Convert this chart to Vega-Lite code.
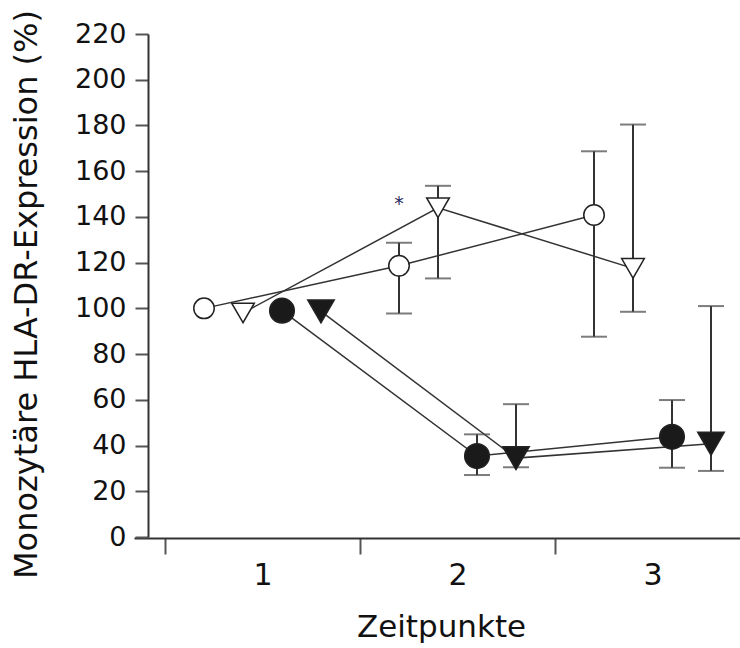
{
  "$schema": "https://vega.github.io/schema/vega-lite/v6.json",
  "autosize": {"type": "none"},
  "width": 606,
  "height": 503,
  "padding": {"left": 134, "top": 34, "right": 0, "bottom": 111},
  "background": "white",
  "config": {"view": {"stroke": null}, "font": "DejaVu Sans"},
  "data": {"values": [
    {"t": "1", "s": "A", "v": 100},
    {"t": "2", "s": "A", "v": 118.6, "lo": 97.8, "hi": 128.7},
    {"t": "3", "s": "A", "v": 140.8, "lo": 87.6, "hi": 168.7},
    {"t": "1", "s": "B", "v": 98},
    {"t": "2", "s": "B", "v": 144, "lo": 113.1, "hi": 153.6},
    {"t": "3", "s": "B", "v": 117.5, "lo": 98.5, "hi": 180.4},
    {"t": "1", "s": "C", "v": 99},
    {"t": "2", "s": "C", "v": 35.4, "lo": 27.1, "hi": 44.9},
    {"t": "3", "s": "C", "v": 43.8, "lo": 30.3, "hi": 59.9},
    {"t": "1", "s": "D", "v": 98.7},
    {"t": "2", "s": "D", "v": 34.5, "lo": 30.5, "hi": 58.1},
    {"t": "3", "s": "D", "v": 40.8, "lo": 28.9, "hi": 101}
  ]},
  "encoding": {
    "x": {
      "field": "t", "type": "nominal", "title": "Zeitpunkte",
      "scale": {"range": [0, 647], "paddingInner": 0, "paddingOuter": 0.159, "align": 0.5},
      "axis": {
        "labelAngle": 0, "offset": 1, "tickBand": "extent", "tickSize": 16,
        "domainColor": "#333", "domainWidth": 2, "tickColor": "#555", "tickWidth": 2,
        "labelFontSize": 30, "labelColor": "#111", "labelPadding": 6,
        "titleFontSize": 31, "titleFontWeight": "normal", "titleColor": "#111", "titlePadding": 22, "titleX": 307
      }
    },
    "xOffset": {"field": "s", "type": "nominal", "scale": {"domain": ["A", "B", "C", "D"], "paddingInner": 0, "paddingOuter": 0.5}}
  },
  "layer": [
    {
      "mark": {"type": "line", "stroke": "#333", "strokeWidth": 1.5},
      "encoding": {
        "y": {"field": "v", "type": "quantitative", "title": "Monozytäre HLA-DR-Expression (%)",
          "scale": {"domain": [0, 220], "nice": false},
          "axis": {
            "values": [0, 20, 40, 60, 80, 100, 120, 140, 160, 180, 200, 220],
            "offset": -14, "tickSize": 13, "grid": false,
            "domainColor": "#333", "domainWidth": 2, "tickColor": "#555", "tickWidth": 2,
            "labelFontSize": 27, "labelColor": "#111", "labelPadding": 9,
            "titleFontSize": 32, "titleFontWeight": "normal", "titleColor": "#111", "titlePadding": 31, "titleY": 260
          }
        },
        "detail": {"field": "s", "type": "nominal"}
      }
    },
    {
      "mark": {"type": "rule", "stroke": "#333", "strokeWidth": 2},
      "encoding": {
        "y": {"field": "lo", "type": "quantitative"},
        "y2": {"field": "hi"}
      }
    },
    {
      "mark": {"type": "tick", "color": "#444", "size": 26, "thickness": 2, "orient": "horizontal"},
      "encoding": {"y": {"field": "hi", "type": "quantitative"}}
    },
    {
      "mark": {"type": "tick", "color": "#444", "size": 26, "thickness": 2, "orient": "horizontal"},
      "encoding": {"y": {"field": "lo", "type": "quantitative"}}
    },
    {
      "mark": {"type": "point", "filled": true, "stroke": "#222", "strokeWidth": 1.5, "opacity": 1},
      "encoding": {
        "y": {"field": "v", "type": "quantitative"},
        "shape": {"field": "s", "type": "nominal", "legend": null,
          "scale": {"domain": ["A", "B", "C", "D"], "range": ["circle", "triangle-down", "circle", "triangle-down"]}},
        "fill": {"field": "s", "type": "nominal", "legend": null,
          "scale": {"domain": ["A", "B", "C", "D"], "range": ["#ffffff", "#ffffff", "#1a1a1a", "#1a1a1a"]}},
        "size": {"field": "s", "type": "nominal", "legend": null,
          "scale": {"domain": ["A", "B", "C", "D"], "range": [420, 700, 420, 700]}}
      }
    },
    {
      "data": {"values": [{"t": "2", "s": "A", "v": 145.5, "label": "*"}]},
      "mark": {"type": "text", "fontSize": 19, "color": "#2b2b5e", "baseline": "middle", "align": "center"},
      "encoding": {
        "y": {"field": "v", "type": "quantitative"},
        "text": {"field": "label"}
      }
    }
  ]
}
